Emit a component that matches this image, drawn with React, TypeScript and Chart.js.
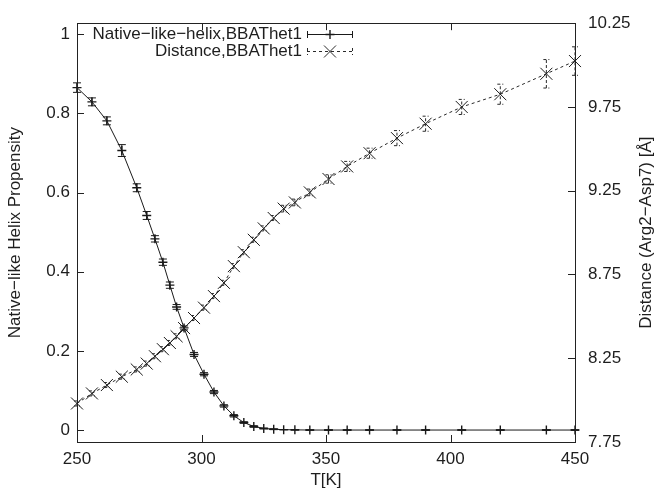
import React, { useEffect, useRef } from 'react';
import { Chart, registerables } from 'chart.js';
Chart.register(...registerables);

const temps = [250, 256, 262, 268, 274, 278, 281.3, 284.5, 287.3, 290, 293, 297, 301, 305, 309, 313, 317, 321, 325, 329, 333, 337.5, 343.5, 351, 358.5, 367.5, 378.5, 390, 404.5, 420, 438.5, 450];
const helix = [0.865, 0.829, 0.781, 0.706, 0.612, 0.542, 0.483, 0.424, 0.366, 0.311, 0.258, 0.191, 0.141, 0.096, 0.061, 0.036, 0.019, 0.009, 0.004, 0.002, 0.001, 0.0005, 0, 0, 0, 0, 0, 0, 0, 0, 0, 0];
const helixErr = [0.012, 0.01, 0.01, 0.015, 0.01, 0.01, 0.008, 0.008, 0.008, 0.006, 0.005, 0.005, 0.004, 0.004, 0.003, 0.003, 0.002, 0.002, 0.001, 0.001, 0, 0, 0, 0, 0, 0, 0, 0, 0, 0, 0, 0];
const distance = [7.98, 8.04, 8.09, 8.14, 8.183, 8.218, 8.262, 8.304, 8.341, 8.381, 8.43, 8.49, 8.552, 8.621, 8.7, 8.8, 8.883, 8.957, 9.025, 9.087, 9.143, 9.18, 9.24, 9.32, 9.395, 9.474, 9.564, 9.65, 9.75, 9.826, 9.948, 10.024];
const distanceErr = [0.015, 0.015, 0.015, 0.015, 0.015, 0.015, 0.015, 0.015, 0.015, 0.015, 0.015, 0.015, 0.015, 0.015, 0.015, 0.015, 0.015, 0.015, 0.015, 0.015, 0.02, 0.02, 0.02, 0.025, 0.03, 0.03, 0.045, 0.045, 0.045, 0.06, 0.085, 0.085];

const xTicks = [250, 300, 350, 400, 450];
const yTicks = [0, 0.2, 0.4, 0.6, 0.8, 1];
const y2Ticks = [7.75, 8.25, 8.75, 9.25, 9.75, 10.25];

const seriesNames = ['Native−like−helix,BBAThet1', 'Distance,BBAThet1'];
const xTitle = 'T[K]';
const yTitle = 'Native−like Helix Propensity';
const y2Title = 'Distance (Arg2−Asp7) [Å]';

const FONT_FAMILY = '"Liberation Sans", Arial, Helvetica, sans-serif';
const TEXT = '#1e1e1e';
const INK = '#1a1a1a';

function drawMarker(ctx: CanvasRenderingContext2D, style: string, x: number, y: number, r: number) {
  ctx.beginPath();
  if (style === 'cross') {
    ctx.moveTo(x - r, y); ctx.lineTo(x + r, y);
    ctx.moveTo(x, y - r); ctx.lineTo(x, y + r);
  } else {
    const o = r * Math.SQRT1_2;
    ctx.moveTo(x - o, y - o); ctx.lineTo(x + o, y + o);
    ctx.moveTo(x - o, y + o); ctx.lineTo(x + o, y - o);
  }
  ctx.stroke();
}

const errorBarPlugin = {
  id: 'errorBars',
  afterDatasetsDraw(chart: any) {
    const ctx = chart.ctx as CanvasRenderingContext2D;
    const xs = chart.scales.x;
    chart.data.datasets.forEach((ds: any, i: number) => {
      const meta = chart.getDatasetMeta(i);
      const ys = chart.scales[meta.yAxisID];
      const errs: number[] = ds.errors;
      ctx.save();
      ctx.strokeStyle = ds.borderColor;
      ctx.lineWidth = 1;
      ctx.setLineDash(ds.barDash || []);
      const cap = ds.capHalf;
      ds.data.forEach((p: any, j: number) => {
        const v = p.y;
        const e = errs[j];
        const x = xs.getPixelForValue(temps[j]);
        const lo = ys.getPixelForValue(v - e);
        const hi = ys.getPixelForValue(v + e);
        ctx.beginPath();
        ctx.moveTo(x, lo); ctx.lineTo(x, hi);
        ctx.moveTo(x - cap, lo); ctx.lineTo(x + cap, lo);
        ctx.moveTo(x - cap, hi); ctx.lineTo(x + cap, hi);
        ctx.stroke();
      });
      ctx.restore();
    });
  },
};

const framePlugin = {
  id: 'frame',
  afterDraw(chart: any) {
    const ctx = chart.ctx as CanvasRenderingContext2D;
    const a = chart.chartArea;
    const T = 7;
    ctx.save();
    ctx.strokeStyle = '#222';
    ctx.lineWidth = 1;
    ctx.setLineDash([]);
    ctx.strokeRect(Math.round(a.left) + 0.5, Math.round(a.top) + 0.5, Math.round(a.right - a.left), Math.round(a.bottom - a.top));
    ctx.beginPath();
    chart.scales.x.ticks.forEach((t: any) => {
      const x = Math.round(chart.scales.x.getPixelForValue(t.value)) + 0.5;
      ctx.moveTo(x, a.bottom); ctx.lineTo(x, a.bottom - T);
      ctx.moveTo(x, a.top); ctx.lineTo(x, a.top + T);
    });
    chart.scales.y.ticks.forEach((t: any) => {
      const y = Math.round(chart.scales.y.getPixelForValue(t.value)) + 0.5;
      ctx.moveTo(a.left, y); ctx.lineTo(a.left + T, y);
    });
    chart.scales.y2.ticks.forEach((t: any) => {
      const y = Math.round(chart.scales.y2.getPixelForValue(t.value)) + 0.5;
      ctx.moveTo(a.right, y); ctx.lineTo(a.right - T, y);
    });
    ctx.stroke();

    // right axis title, reading bottom-to-top like the left one
    ctx.font = `17px ${FONT_FAMILY}`;
    ctx.fillStyle = TEXT;
    ctx.save();
    ctx.translate(646, (a.top + a.bottom) / 2);
    ctx.rotate(-Math.PI / 2);
    ctx.textAlign = 'center';
    ctx.textBaseline = 'middle';
    ctx.fillText(y2Title, 0, 0);
    ctx.restore();

    // gnuplot-style legend
    const textRight = 302;
    const s0 = 307, s1 = 353, sm = (s0 + s1) / 2;
    const rows = [
      { y: 34, dash: [] as number[], marker: 'cross', r: 4.5, color: INK },
      { y: 51, dash: [3, 3], marker: 'crossRot', r: 8.5, color: '#2a2a2a' },
    ];
    ctx.textAlign = 'right';
    ctx.textBaseline = 'middle';
    rows.forEach((row, i) => {
      ctx.fillText(seriesNames[i], textRight, row.y);
      ctx.strokeStyle = row.color;
      ctx.setLineDash(row.dash);
      ctx.beginPath();
      ctx.moveTo(s0, row.y + 0.5); ctx.lineTo(s1, row.y + 0.5);
      ctx.moveTo(s0 + 0.5, row.y - 3); ctx.lineTo(s0 + 0.5, row.y + 4);
      ctx.moveTo(s1 - 0.5, row.y - 3); ctx.lineTo(s1 - 0.5, row.y + 4);
      ctx.stroke();
      ctx.setLineDash([]);
      ctx.lineWidth = i === 0 ? 1.4 : 1;
      drawMarker(ctx, row.marker, sm, row.y + 0.5, row.r);
      ctx.lineWidth = 1;
    });
    ctx.restore();
  },
};

export default function App() {
  const ref = useRef<HTMLCanvasElement>(null);
  useEffect(() => {
    if (!ref.current) return;
    const font = { family: FONT_FAMILY, size: 17 };
    const chart = new Chart(ref.current, {
      type: 'line',
      data: {
        datasets: [
          {
            label: seriesNames[0],
            data: helix.map((v, i) => ({ x: temps[i], y: v })) as any,
            yAxisID: 'y',
            borderColor: INK,
            backgroundColor: INK,
            borderWidth: 1,
            pointStyle: 'cross',
            pointRadius: 4.5,
            pointBorderWidth: 1.4,
            pointBorderColor: INK,
            tension: 0,
            clip: false,
            fill: false,
            errors: helixErr,
            capHalf: 4,
            barDash: [],
          } as any,
          {
            label: seriesNames[1],
            data: distance.map((v, i) => ({ x: temps[i], y: v })) as any,
            yAxisID: 'y2',
            borderColor: '#2a2a2a',
            backgroundColor: '#2a2a2a',
            borderWidth: 1,
            borderDash: [3, 3],
            pointStyle: 'crossRot',
            pointRadius: 8.5,
            pointBorderWidth: 1,
            pointBorderColor: '#1a1a1a',
            tension: 0,
            clip: false,
            fill: false,
            errors: distanceErr,
            capHalf: 3,
            barDash: [3, 2],
          } as any,
        ],
      },
      options: {
        animation: false,
        responsive: false,
        layout: { padding: { top: 22, left: 0, right: 0, bottom: 0 } },
        plugins: { legend: { display: false }, tooltip: { enabled: false } },
        scales: {
          x: {
            type: 'linear',
            position: 'bottom',
            min: 250,
            max: 450,
            grid: { display: false, drawTicks: false },
            border: { display: false },
            afterBuildTicks: (s: any) => { s.ticks = xTicks.map((v) => ({ value: v })); },
            afterFit: (s: any) => { s.height = 49; },
            ticks: { padding: 7, font, color: TEXT, callback: (v: any) => String(v) },
            title: { display: true, text: xTitle, font, color: TEXT, padding: { top: 0, bottom: 0 } },
          },
          y: {
            type: 'linear',
            position: 'left',
            min: -0.0302,
            max: 1.0277,
            grid: { display: false, drawTicks: false },
            border: { display: false },
            afterBuildTicks: (s: any) => { s.ticks = yTicks.map((v) => ({ value: v })); },
            afterFit: (s: any) => { s.width = 77; },
            ticks: { padding: 7, font, color: TEXT, callback: (v: any) => String(v) },
            title: { display: true, text: yTitle, font, color: TEXT, padding: { top: 5, bottom: 0 } },
          },
          y2: {
            type: 'linear',
            position: 'right',
            min: 7.75,
            max: 10.25,
            grid: { display: false, drawTicks: false },
            border: { display: false },
            afterBuildTicks: (s: any) => { s.ticks = y2Ticks.map((v) => ({ value: v })); },
            afterFit: (s: any) => { s.width = 85; },
            ticks: { padding: 13, font, color: TEXT, callback: (v: any) => Number(v).toFixed(2) },
            title: { display: false },
          },
        },
      } as any,
      plugins: [errorBarPlugin, framePlugin],
    });
    return () => chart.destroy();
  }, []);
  return (
    <div style={{ position: 'absolute', left: 0, top: 0, width: 660, height: 491, background: '#fff' }}>
      <canvas ref={ref} width={660} height={491} style={{ display: 'block', width: 660, height: 491 }} />
    </div>
  );
}
